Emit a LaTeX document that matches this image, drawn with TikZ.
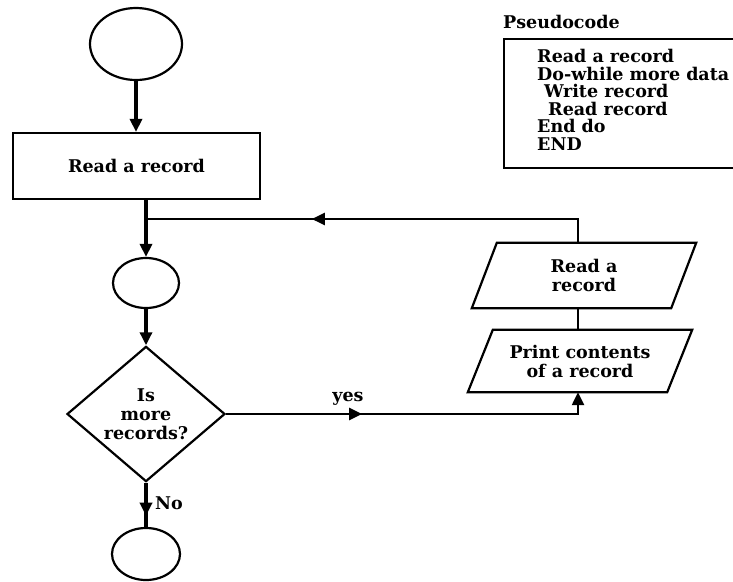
\documentclass[tikz,border=0pt]{standalone}
\usepackage{fontspec}
\setmainfont{DejaVu Serif}
\usetikzlibrary{shapes.geometric,arrows.meta,decorations.markings}
\begin{document}
\begin{tikzpicture}[x=1pt,y=-1pt,
  font=\fontsize{17.5}{19}\selectfont\bfseries,
  outline/.style={draw, line width=2.2pt},
  terminal/.style={outline, ellipse, inner sep=0pt},
  process/.style={outline, rectangle, inner sep=0pt},
  decision/.style={outline, diamond, inner sep=0pt, align=center},
  iobody/.style={rectangle, inner sep=0pt, align=center, minimum width=199pt},
  flowline/.style={line width=3.4pt},
  connline/.style={line width=2.4pt},
  arrowend/.style={-{Triangle[length=13pt,width=12pt]}},
  midarrow/.style={postaction={decorate}, decoration={markings,
    mark=at position #1 with {\arrow{Triangle[length=13pt,width=12pt]}}}},
  codeline/.style={anchor=base west, inner sep=0pt}
]
\useasboundingbox (0,0) rectangle (733,581);
\clip (0,0) rectangle (733,581);

% main flow
\node[terminal, minimum width=92pt, minimum height=72pt] (start) at (136,44) {};
\node[process, minimum width=247pt, minimum height=66pt] (read) at (136.5,166) {Read a record};
\node[terminal, minimum width=66pt, minimum height=50pt] (loop) at (146,283) {};
\node[decision, minimum width=158pt, minimum height=125pt] (more) at (146,414)
  {Is\\more\\records?};
\node[terminal, minimum width=68pt, minimum height=52pt] (stop) at (146,554) {};

% loop body: input/output boxes drawn as slanted parallelograms
\node[iobody, minimum height=65pt] (readio) at (584,275.5) {Read a\\record};
\node[iobody, minimum height=62pt] (print) at (580,361) {Print contents\\of a record};
\foreach \io in {readio, print}
  \draw[outline, line join=miter]
    ([xshift=-12.5pt]\io.south west) -- ([xshift=12.5pt]\io.north west) --
    ([xshift=12.5pt]\io.north east) -- ([xshift=-12.5pt]\io.south east) -- cycle;

\coordinate (join) at (146,219);

\draw[flowline, arrowend] (start.south) -- (start.south |- read.north);
\draw[flowline, arrowend] (read.south -| loop.north) -- (loop.north);
\draw[flowline, arrowend] (loop.south) -- (more.north);
\draw[flowline, midarrow=33pt] (more.south) -- (stop.north);
\node[anchor=west, inner sep=0pt] (nolabel) at (155,503) {No};

\draw[connline, midarrow=136pt, arrowend] (more.east) -| ([xshift=-2pt]print.south);
\node[anchor=base, inner sep=0pt] (yeslabel) at (348,401) {yes};
\draw[connline] ([xshift=-2pt]print.north) -- ([xshift=-2pt]print.north |- readio.south);
\draw[connline, midarrow=290pt] ([xshift=-2pt]print.north |- readio.north) |- (join);

% pseudocode listing
\node[codeline] (ptitle) at (503,28) {Pseudocode};
\node[process, anchor=north west, minimum width=260pt, minimum height=129pt] (pbox) at (503,38) {};
\node[codeline] (ps1) at (537,62) {Read a record};
\node[codeline] (ps2) at (537,80) {Do-while more data};
\node[codeline] (ps3) at (544,97) {Write record};
\node[codeline] (ps4) at (548,115) {Read record};
\node[codeline] (ps5) at (537,132) {End do};
\node[codeline] (ps6) at (537,150) {END};
\end{tikzpicture}
\end{document}
